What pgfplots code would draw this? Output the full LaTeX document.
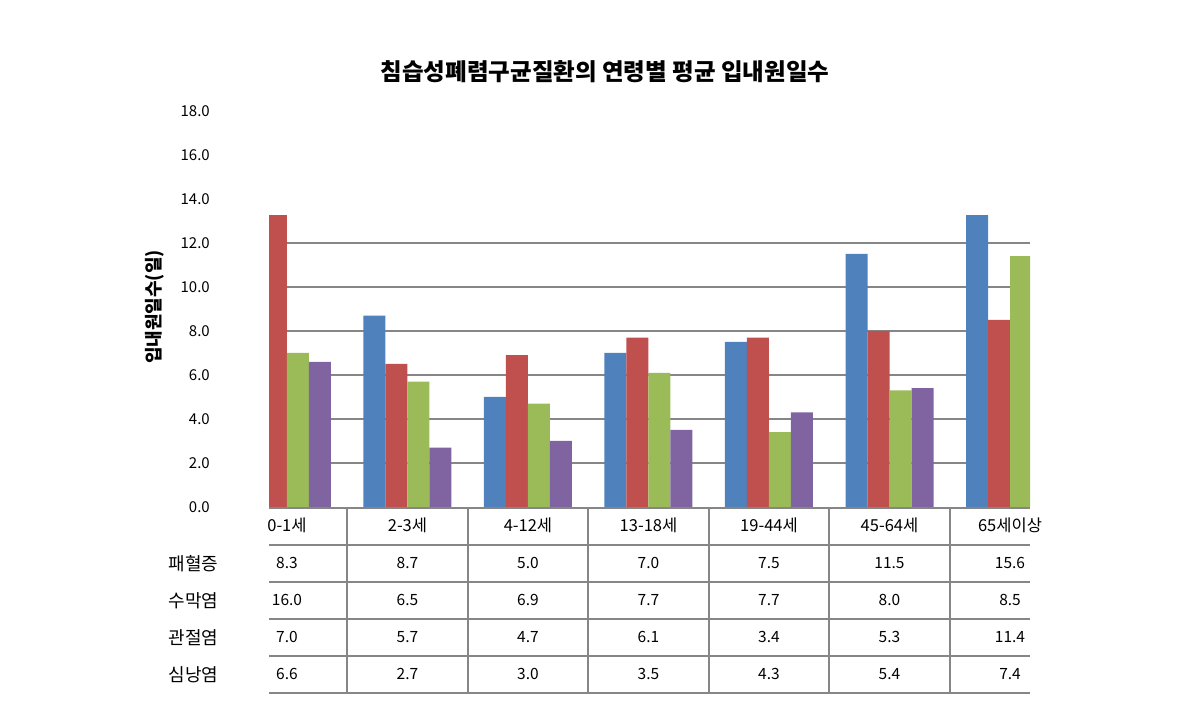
\documentclass[border=0pt]{standalone}
\usepackage{pgfplots}
\pgfplotsset{compat=1.18}
\usepackage{pgfplotstable}
\usepackage{fontspec}
\setmainfont{Noto Sans CJK KR}
\definecolor{c1}{HTML}{4F81BD}
\definecolor{c2}{HTML}{C0504D}
\definecolor{c3}{HTML}{9BBB59}
\definecolor{c4}{HTML}{8064A2}
\definecolor{gridgray}{HTML}{868686}
\pgfplotstableread{
x cat s1 s2 s3 s4
0 0-1세 8.3 16.0 7.0 6.6
1 2-3세 8.7 6.5 5.7 2.7
2 4-12세 5.0 6.9 4.7 3.0
3 13-18세 7.0 7.7 6.1 3.5
4 19-44세 7.5 7.7 3.4 4.3
5 45-64세 11.5 8.0 5.3 5.4
6 65세이상 15.6 8.5 11.4 7.4
}\data
\begin{document}
\begin{tikzpicture}[x=1bp,y=1bp]
\path[use as bounding box] (0,0) rectangle (1186,721);
\node[font=\fontsize{23.5bp}{28bp}\selectfont\bfseries] at (605,649) {침습성폐렴구균질환의 연령별 평균 입내원일수};
\node[rotate=90,font=\fontsize{18bp}{21bp}\selectfont\bfseries] at (155,414) {입내원일수(일)};
% y tick labels axis
\begin{axis}[at={(269bp,214bp)}, anchor=south west, scale only axis,
  width=761bp, height=396bp, xmin=-0.149, xmax=6.166, ymin=0, ymax=18,
  ytick={0,2,...,18}, xtick=\empty,
  axis line style={draw=none}, tick style={draw=none},
  /pgf/number format/assume math mode=true,
  yticklabel style={/pgf/number format/.cd, fixed, fixed zerofill, precision=1, /tikz/.cd, anchor=east, inner sep=0pt, xshift=-59bp, font=\fontsize{15bp}{18bp}\selectfont}]
\addplot[draw=none] coordinates {(0,0)};
\end{axis}
% bars
\begin{axis}[at={(269bp,214bp)}, anchor=south west, scale only axis,
  width=761bp, height=291bp, xmin=-0.149, xmax=6.166, ymin=0, ymax=13.227,
  ybar=0pt, bar width=22bp,
  ytick={2,4,...,12}, yticklabels={}, xtick=\empty,
  ymajorgrids, major grid style={color=gridgray, line width=1.5bp},
  axis line style={draw=none}, tick style={draw=none}]
\addplot[fill=c1, draw=none] table[x=x,y=s1]{\data};
\addplot[fill=c2, draw=none] table[x=x,y=s2]{\data};
\addplot[fill=c3, draw=none] table[x=x,y=s3]{\data};
\addplot[fill=c4, draw=none] table[x=x,y=s4]{\data};
\end{axis}
% data table
\begin{axis}[at={(269bp,28bp)}, anchor=south west, scale only axis,
  width=761bp, height=185bp, xmin=-0.149, xmax=6.166, ymin=0, ymax=5,
  clip=false,
  xtick={0.5,1.5,...,5.5}, ytick={0,1,...,5},
  xticklabels={}, yticklabels={},
  xmajorgrids, ymajorgrids, major grid style={color=gridgray, line width=2bp},
  axis line style={draw=none}, tick style={draw=none},
  nodes near coords style={anchor=center, inner sep=0pt, text height=12bp, text depth=2bp, font=\fontsize{15.5bp}{18bp}\selectfont, text=black}]
\addplot[draw=none, nodes near coords, point meta=explicit symbolic, nodes near coords style={font=\fontsize{16.5bp}{19bp}\selectfont, text height=13bp, text depth=3bp}] table[x=x, y expr=4.5, meta=cat]{\data};
\addplot[draw=none, nodes near coords, point meta=explicit symbolic] table[x=x, y expr=3.5, meta=s1]{\data};
\addplot[draw=none, nodes near coords, point meta=explicit symbolic] table[x=x, y expr=2.5, meta=s2]{\data};
\addplot[draw=none, nodes near coords, point meta=explicit symbolic] table[x=x, y expr=1.5, meta=s3]{\data};
\addplot[draw=none, nodes near coords, point meta=explicit symbolic] table[x=x, y expr=0.5, meta=s4]{\data};
\node[font=\fontsize{18bp}{21bp}\selectfont] at (axis cs:-0.775,3.5) {패혈증};
\node[font=\fontsize{18bp}{21bp}\selectfont] at (axis cs:-0.775,2.5) {수막염};
\node[font=\fontsize{18bp}{21bp}\selectfont] at (axis cs:-0.775,1.5) {관절염};
\node[font=\fontsize{18bp}{21bp}\selectfont] at (axis cs:-0.775,0.5) {심낭염};
\end{axis}
\end{tikzpicture}
\end{document}
